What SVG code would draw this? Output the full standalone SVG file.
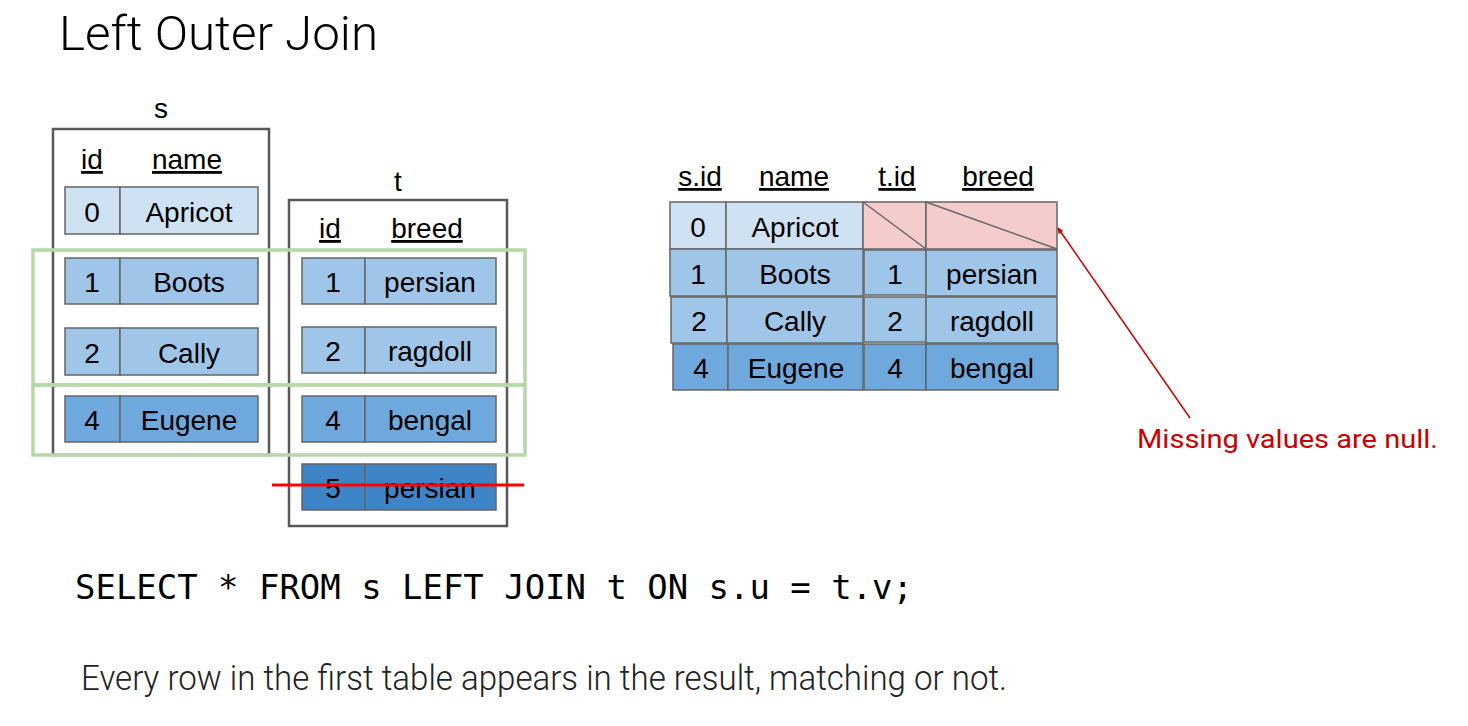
<svg xmlns="http://www.w3.org/2000/svg" width="1468" height="726" viewBox="0 0 1468 726">
<style>
.bg{fill:#ffffff}
.box{fill:none;stroke:#595959;stroke-width:2.5}
.grp{fill:none;stroke:#b6d7a8;stroke-width:3.5}
.cell{stroke:#666666;stroke-width:1.5}
.c0{fill:#cfe2f3}
.c1{fill:#9fc5e8}
.c2{fill:#6fa8dc}
.c3{fill:#3d85c6}
.cn{fill:#f4cccc}
.t{font-family:"Liberation Sans",Arial,sans-serif;font-size:28px;fill:#000000;text-anchor:middle}
.h{font-family:"Liberation Sans",Arial,sans-serif;font-size:28px;fill:#000000;text-anchor:middle;text-decoration:underline}
.title{font-family:Roboto,"Liberation Sans",sans-serif;font-weight:300;font-size:48px;fill:#000000}
.code{font-family:"DejaVu Sans Mono","Liberation Mono",monospace;font-size:33px;fill:#000000}
.note{font-family:Roboto,"Liberation Sans",sans-serif;font-weight:300;font-size:35px;fill:#222222}
.red{font-family:Roboto,"Liberation Sans",sans-serif;font-size:26px;fill:#cc0000}
.diag{stroke:#666666;stroke-width:1.5}
</style>
<defs>
<marker id="ah" viewBox="0 0 10 10" refX="9" refY="5" markerWidth="6" markerHeight="6" orient="auto" markerUnits="userSpaceOnUse">
<path d="M0,0 L10,5 L0,10 z" fill="#cc0000"/>
</marker>
</defs>
<rect class="bg" x="0" y="0" width="1468" height="726"/>

<text id="title" class="title" x="59" y="50" textLength="319" lengthAdjust="spacingAndGlyphs">Left Outer Join</text>

<g id="table-s">
<text class="t" x="161" y="118">s</text>
<rect class="box" x="53" y="129" width="216" height="326"/>
<text class="h" x="92" y="169">id</text>
<text class="h" x="187" y="169">name</text>
<rect class="cell c0" x="65" y="187" width="55" height="47"/><rect class="cell c0" x="120" y="187" width="138" height="47"/>
<text class="t" x="92" y="222">0</text><text class="t" x="189" y="222">Apricot</text>
<rect class="cell c1" x="65" y="258" width="55" height="46"/><rect class="cell c1" x="120" y="258" width="138" height="46"/>
<text class="t" x="92" y="292">1</text><text class="t" x="189" y="292">Boots</text>
<rect class="cell c1" x="65" y="328" width="55" height="47"/><rect class="cell c1" x="120" y="328" width="138" height="47"/>
<text class="t" x="92" y="363">2</text><text class="t" x="189" y="363">Cally</text>
<rect class="cell c2" x="65" y="396" width="55" height="46"/><rect class="cell c2" x="120" y="396" width="138" height="46"/>
<text class="t" x="92" y="430">4</text><text class="t" x="189" y="430">Eugene</text>
</g>

<g id="table-t">
<text class="t" x="398" y="191">t</text>
<rect class="box" x="289" y="200" width="218" height="326"/>
<text class="h" x="330" y="238">id</text>
<text class="h" x="427" y="238">breed</text>
<rect class="cell c1" x="302" y="258" width="63" height="46"/><rect class="cell c1" x="365" y="258" width="131" height="46"/>
<text class="t" x="333" y="292">1</text><text class="t" x="430" y="292">persian</text>
<rect class="cell c1" x="302" y="327" width="63" height="46"/><rect class="cell c1" x="365" y="327" width="131" height="46"/>
<text class="t" x="333" y="361">2</text><text class="t" x="430" y="361">ragdoll</text>
<rect class="cell c2" x="302" y="396" width="63" height="46"/><rect class="cell c2" x="365" y="396" width="131" height="46"/>
<text class="t" x="333" y="430">4</text><text class="t" x="430" y="430">bengal</text>
<rect class="cell c3" x="302" y="464" width="63" height="46"/><rect class="cell c3" x="365" y="464" width="131" height="46"/>
<text class="t" x="333" y="498">5</text><text class="t" x="430" y="498">persian</text>
</g>

<g id="match-groups">
<rect class="grp" x="33" y="250" width="492" height="135"/>
<rect class="grp" x="33" y="385" width="492" height="70"/>
</g>

<g id="strike">
<line x1="272" y1="485" x2="524" y2="485" stroke="#ff0000" stroke-width="3"/>
</g>

<g id="result">
<text class="h" x="700" y="186">s.id</text>
<text class="h" x="794" y="186">name</text>
<text class="h" x="897" y="186">t.id</text>
<text class="h" x="998" y="186">breed</text>
<rect class="cell c0" x="670" y="202" width="56" height="47"/><rect class="cell c0" x="726" y="202" width="137" height="47"/>
<rect class="cell cn" x="863" y="202" width="63" height="47"/><rect class="cell cn" x="926" y="202" width="131" height="47"/>
<line class="diag" x1="863" y1="202" x2="926" y2="249"/>
<line class="diag" x1="926" y1="202" x2="1057" y2="249"/>
<text class="t" x="698" y="237">0</text><text class="t" x="795" y="237">Apricot</text>
<rect class="cell c1" x="670" y="249" width="56" height="47"/><rect class="cell c1" x="726" y="249" width="137" height="47"/>
<rect class="cell c1" x="864" y="250" width="62" height="45"/><rect class="cell c1" x="926" y="250" width="131" height="46"/>
<text class="t" x="698" y="284">1</text><text class="t" x="795" y="284">Boots</text>
<text class="t" x="895" y="284">1</text><text class="t" x="992" y="284">persian</text>
<rect class="cell c1" x="671" y="297" width="56" height="46"/><rect class="cell c1" x="727" y="297" width="136" height="46"/>
<rect class="cell c1" x="864" y="297" width="62" height="45"/><rect class="cell c1" x="926" y="297" width="131" height="46"/>
<text class="t" x="699" y="331">2</text><text class="t" x="795" y="331">Cally</text>
<text class="t" x="895" y="331">2</text><text class="t" x="992" y="331">ragdoll</text>
<rect class="cell c2" x="673" y="344" width="55" height="46"/><rect class="cell c2" x="728" y="344" width="135" height="46"/>
<rect class="cell c2" x="864" y="344" width="62" height="46"/><rect class="cell c2" x="926" y="344" width="132" height="46"/>
<text class="t" x="701" y="378">4</text><text class="t" x="796" y="378">Eugene</text>
<text class="t" x="895" y="378">4</text><text class="t" x="992" y="378">bengal</text>
</g>

<g id="connectors">
<line x1="1190" y1="418" x2="1058" y2="228" stroke="#cc0000" stroke-width="1.5" marker-end="url(#ah)"/>
</g>

<text id="null-note" class="red" x="1137" y="448" textLength="301" lengthAdjust="spacingAndGlyphs">Missing values are null.</text>

<text id="sql" class="code" x="75" y="599" textLength="838" lengthAdjust="spacingAndGlyphs">SELECT * FROM s LEFT JOIN t ON s.u = t.v;</text>

<text id="caption" class="note" x="81" y="690" textLength="926" lengthAdjust="spacingAndGlyphs">Every row in the first table appears in the result, matching or not.</text>
</svg>
